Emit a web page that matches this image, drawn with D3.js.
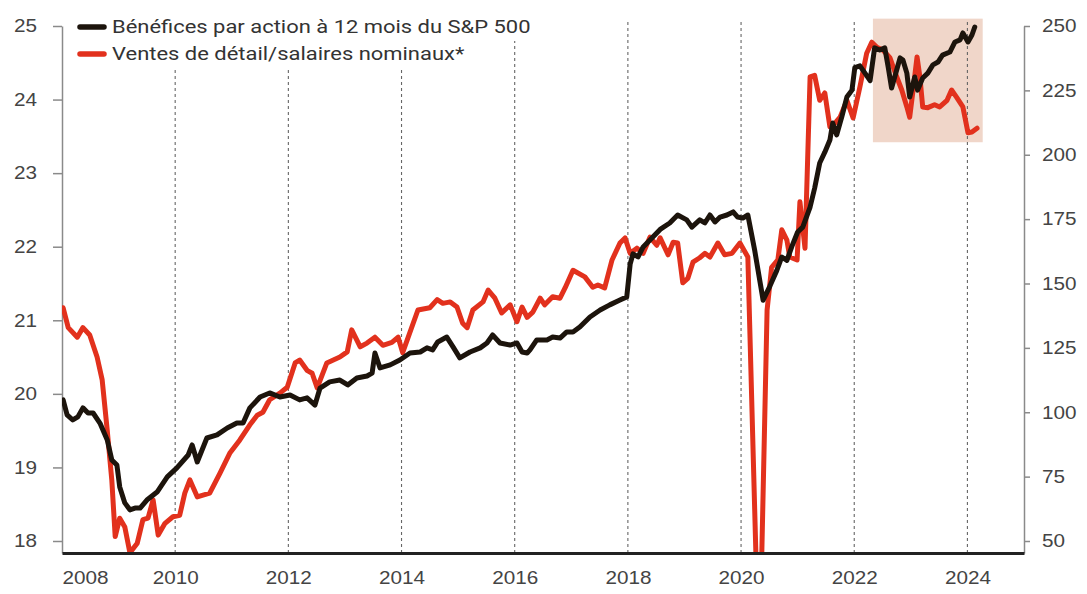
<!DOCTYPE html>
<meta charset="utf-8">
<style>
body { margin: 0; background: #fff; }
svg { display: block; font-family: Roboto, "Open Sans", sans-serif; }
.tick text { fill: #444; font-size: 18px; }
.axis--side path, .axis--side line { stroke: #8a8a8a; stroke-width: 1.5px; }
.axis--x path { stroke: #222; stroke-width: 3px; }
.grid line { stroke: #666; stroke-width: 1.1px; stroke-dasharray: 3,3; }
.line { fill: none; stroke-linejoin: round; stroke-linecap: round; }
.legend text { fill: #333; font-size: 18px; }
</style>
<svg width="1087" height="594"></svg>
<script src="https://cdn.jsdelivr.net/npm/d3@7"></script>
<script>

// --- data ---
var years = [2008, 2010, 2012, 2014, 2016, 2018, 2020, 2022, 2024];
var leftTicks = [18, 19, 20, 21, 22, 23, 24, 25];
var rightTicks = [50, 75, 100, 125, 150, 175, 200, 225, 250];
var seriesNames = ["Bénéfices par action à 12 mois du S&P 500", "Ventes de détail/salaires nominaux*"];

// highlighted period (years) and its vertical extent (left axis units)
var highlightYears = [2022.33, 2024.27];
var highlightLevels = [23.42, 25.1];

// S&P 500 12m EPS, right axis  [year, value]
var epsData = [
  [2008.02,104.8],[2008.09,99.0],[2008.19,97.0],[2008.28,98.2],[2008.37,101.7],[2008.46,99.7],[2008.55,99.7],
  [2008.67,95.8],[2008.80,89.2],[2008.88,81.5],[2008.97,79.5],[2009.02,71.0],[2009.11,64.8],[2009.20,62.1],
  [2009.29,62.8],[2009.38,62.8],[2009.50,65.9],[2009.68,69.0],[2009.86,74.9],[2010.03,78.4],[2010.23,83.4],
  [2010.30,87.3],[2010.39,80.7],[2010.56,90.0],[2010.74,91.2],[2010.92,93.9],[2011.09,95.8],[2011.20,95.8],
  [2011.32,101.7],[2011.50,105.9],[2011.67,107.5],[2011.85,105.9],[2012.03,106.7],[2012.20,104.8],[2012.33,105.6],
  [2012.47,102.8],[2012.56,109.4],[2012.73,111.8],[2012.91,112.5],[2013.05,110.6],[2013.21,113.3],[2013.39,114.1],
  [2013.48,115.2],[2013.53,123.0],[2013.62,117.2],[2013.80,118.4],[2013.97,120.3],[2014.15,123.0],[2014.33,123.4],
  [2014.45,125.0],[2014.55,124.2],[2014.64,127.3],[2014.80,129.2],[2014.91,125.4],[2015.03,121.1],[2015.21,123.4],
  [2015.39,125.0],[2015.51,126.9],[2015.61,130.0],[2015.74,126.9],[2015.92,126.1],[2016.04,126.9],[2016.13,123.4],
  [2016.22,123.0],[2016.27,124.2],[2016.39,128.1],[2016.57,128.1],[2016.67,129.2],[2016.80,128.8],[2016.92,131.2],
  [2017.03,131.2],[2017.15,133.1],[2017.33,137.0],[2017.51,139.7],[2017.68,141.7],[2017.86,143.6],[2017.98,144.8],
  [2018.04,157.5],[2018.09,161.5],[2018.18,160.3],[2018.27,164.2],[2018.39,166.9],[2018.57,171.0],[2018.74,173.5],
  [2018.88,176.6],[2019.04,174.7],[2019.13,171.9],[2019.27,174.7],[2019.36,173.5],[2019.45,176.6],[2019.54,173.9],
  [2019.63,175.8],[2019.75,176.6],[2019.86,177.8],[2019.94,175.8],[2020.03,175.4],[2020.12,176.6],[2020.24,163.0],
  [2020.39,143.5],[2020.51,149.0],[2020.63,155.0],[2020.72,160.3],[2020.81,159.0],[2020.90,164.5],[2021.00,170.0],
  [2021.09,171.9],[2021.22,179.7],[2021.30,187.0],[2021.39,196.8],[2021.48,201.0],[2021.57,205.7],[2021.62,212.3],
  [2021.69,207.7],[2021.78,214.7],[2021.87,222.4],[2021.96,225.1],[2022.01,233.8],[2022.10,234.5],[2022.19,231.7],
  [2022.28,228.8],[2022.36,241.5],[2022.45,240.7],[2022.54,241.5],[2022.60,234.1],[2022.66,225.9],[2022.75,232.9],
  [2022.81,237.6],[2022.86,236.8],[2022.93,231.7],[2022.98,222.4],[2023.07,230.2],[2023.12,225.1],[2023.21,229.8],
  [2023.30,231.7],[2023.39,234.9],[2023.48,236.0],[2023.56,238.7],[2023.69,239.9],[2023.78,243.8],[2023.87,244.6],
  [2023.92,247.3],[2024.01,243.8],[2024.08,246.5],[2024.13,249.6]
];

// retail sales / nominal wages, left axis  [year, value]
var salesData = [
  [2008.02,21.17],[2008.11,20.9],[2008.27,20.77],[2008.37,20.9],[2008.49,20.8],[2008.62,20.5],[2008.71,20.19],
  [2008.80,19.5],[2008.88,18.83],[2008.94,18.06],[2009.02,18.31],[2009.11,18.19],[2009.20,17.84],[2009.33,17.97],
  [2009.43,18.29],[2009.52,18.31],[2009.61,18.56],[2009.70,18.08],[2009.82,18.24],[2009.96,18.33],[2010.08,18.35],
  [2010.17,18.65],[2010.26,18.83],[2010.39,18.6],[2010.61,18.65],[2010.79,18.92],[2010.97,19.2],[2011.14,19.37],
  [2011.32,19.58],[2011.45,19.71],[2011.55,19.75],[2011.67,19.92],[2011.85,20.01],[2011.98,20.09],[2012.12,20.42],
  [2012.20,20.46],[2012.33,20.32],[2012.42,20.28],[2012.51,20.08],[2012.68,20.42],[2012.91,20.5],[2013.04,20.57],
  [2013.12,20.87],[2013.27,20.64],[2013.39,20.69],[2013.53,20.77],[2013.67,20.66],[2013.83,20.7],[2013.94,20.77],
  [2014.02,20.56],[2014.29,21.14],[2014.50,21.17],[2014.63,21.28],[2014.73,21.23],[2014.86,21.25],[2014.98,21.18],
  [2015.08,20.96],[2015.16,20.9],[2015.26,21.14],[2015.44,21.25],[2015.53,21.41],[2015.65,21.3],[2015.77,21.1],
  [2015.92,21.21],[2016.04,20.98],[2016.13,21.18],[2016.22,21.04],[2016.32,21.11],[2016.45,21.3],[2016.53,21.21],
  [2016.67,21.32],[2016.80,21.3],[2016.89,21.44],[2017.03,21.68],[2017.24,21.59],[2017.38,21.45],[2017.47,21.48],
  [2017.59,21.44],[2017.72,21.82],[2017.86,22.05],[2017.95,22.12],[2018.04,21.91],[2018.16,21.98],[2018.27,21.91],
  [2018.39,22.13],[2018.51,22.02],[2018.57,22.12],[2018.71,21.89],[2018.80,22.06],[2018.88,22.05],[2018.97,21.51],
  [2019.06,21.57],[2019.15,21.79],[2019.27,21.85],[2019.36,21.91],[2019.45,21.86],[2019.59,22.05],[2019.71,21.89],
  [2019.84,21.91],[2019.98,22.05],[2020.12,21.86],[2020.27,17.6],[2020.36,17.6],[2020.46,21.14],[2020.54,21.72],
  [2020.65,21.82],[2020.72,22.23],[2020.81,22.09],[2020.86,21.86],[2020.99,21.82],[2021.04,22.61],[2021.13,21.98],
  [2021.22,24.31],[2021.30,24.33],[2021.39,23.99],[2021.48,24.09],[2021.57,23.63],[2021.66,23.68],[2021.75,23.76],
  [2021.87,23.99],[2021.98,23.75],[2022.10,24.17],[2022.22,24.63],[2022.31,24.78],[2022.40,24.71],[2022.51,24.67],
  [2022.63,24.57],[2022.75,24.31],[2022.84,24.13],[2022.93,23.9],[2022.98,23.76],[2023.04,24.13],[2023.11,24.58],
  [2023.16,24.31],[2023.21,23.9],[2023.30,23.89],[2023.42,23.93],[2023.51,23.9],[2023.64,23.99],[2023.72,24.13],
  [2023.81,24.03],[2023.92,23.9],[2024.01,23.55],[2024.08,23.56],[2024.17,23.61]
];

var colors = {eps: "#1c140c", sales: "#e2311d", box: "#f0d6c9"};

// --- layout ---
var svg = d3.select("svg"),
    plotLeft = 62, plotRight = 1024, plotTop = 26, plotBottom = 553;

var x = d3.scaleLinear().domain([2008, 2025]).range([plotLeft, plotRight]);
var yL = d3.scaleLinear().domain([18, 25]).range([541, plotTop]);
var yR = d3.scaleLinear().domain([50, 250]).range([541, plotTop]);

// axis copies that run down to the x axis line
var yLaxis = yL.copy().domain([yL.invert(plotBottom), 25]).range([plotBottom, plotTop]);
var yRaxis = yR.copy().domain([yR.invert(plotBottom), 250]).range([plotBottom, plotTop]);

svg.append("defs").append("clipPath").attr("id", "plot")
  .append("rect").attr("x", plotLeft).attr("y", 0)
    .attr("width", plotRight - plotLeft).attr("height", plotBottom);

// highlight box
svg.append("rect")
    .attr("x", x(highlightYears[0]))
    .attr("width", x(highlightYears[1]) - x(highlightYears[0]))
    .attr("y", yL(highlightLevels[1]))
    .attr("height", yL(highlightLevels[0]) - yL(highlightLevels[1]))
    .attr("fill", colors.box);

// dashed year grid
svg.append("g").attr("class", "grid")
  .selectAll("line").data(years.slice(1)).enter().append("line")
    .attr("x1", function(d) { return x(d); })
    .attr("x2", function(d) { return x(d); })
    .attr("y1", 22)
    .attr("y2", plotBottom);

// left axis
var gl = svg.append("g").attr("class", "axis axis--side").attr("transform", "translate(" + plotLeft + ",0)")
    .call(d3.axisLeft(yLaxis).tickValues(leftTicks).tickSize(9).tickSizeOuter(0).tickFormat(d3.format("d")));
gl.selectAll(".tick text").attr("x", 0).attr("transform", "translate(-25,0) scale(1.15,1)");

// right axis
var gr = svg.append("g").attr("class", "axis axis--side").attr("transform", "translate(" + plotRight + ",0)")
    .call(d3.axisRight(yRaxis).tickValues(rightTicks).tickSize(6).tickSizeOuter(0).tickFormat(d3.format("d")));
gr.selectAll(".tick text").attr("x", 0).attr("transform", "translate(18,0) scale(1.15,1)");

// lines
var lineL = d3.line().x(function(d) { return x(d[0]); }).y(function(d) { return yL(d[1]); });
var lineR = d3.line().x(function(d) { return x(d[0]); }).y(function(d) { return yR(d[1]); });

var plot = svg.append("g").attr("clip-path", "url(#plot)");
plot.append("path").attr("class", "line")
    .attr("d", lineL(salesData))
    .attr("stroke", colors.sales).attr("stroke-width", 5);
plot.append("path").attr("class", "line")
    .attr("d", lineR(epsData))
    .attr("stroke", colors.eps).attr("stroke-width", 5);

// x axis
var gx = svg.append("g").attr("class", "axis axis--x").attr("transform", "translate(0," + plotBottom + ")")
    .call(d3.axisBottom(x).tickValues(years).tickSize(0).tickPadding(18).tickFormat(d3.format("d")));
gx.selectAll(".tick text").attr("transform", "scale(1.15,1)");
gx.selectAll(".tick text").filter(function(d) { return d === 2008; }).attr("text-anchor", "start");

// legend
var legendColors = [colors.eps, colors.sales];
var legend = svg.append("g").attr("class", "legend");
seriesNames.forEach(function(name, i) {
  var row = legend.append("g").attr("transform", "translate(78," + (27 + i * 27) + ")");
  var bg = row.append("rect").attr("fill", "#fff");
  row.append("line")
      .attr("x1", 2).attr("x2", 26)
      .attr("stroke", legendColors[i]).attr("stroke-width", 5.5).attr("stroke-linecap", "round");
  row.append("text")
      .attr("transform", "translate(34,0) scale(1.22,1)")
      .attr("dy", "0.35em")
      .text(name);
  var b = row.node().getBBox();
  bg.attr("x", b.x - 4).attr("y", -14).attr("width", b.width + 8).attr("height", 28);
});

</script>
